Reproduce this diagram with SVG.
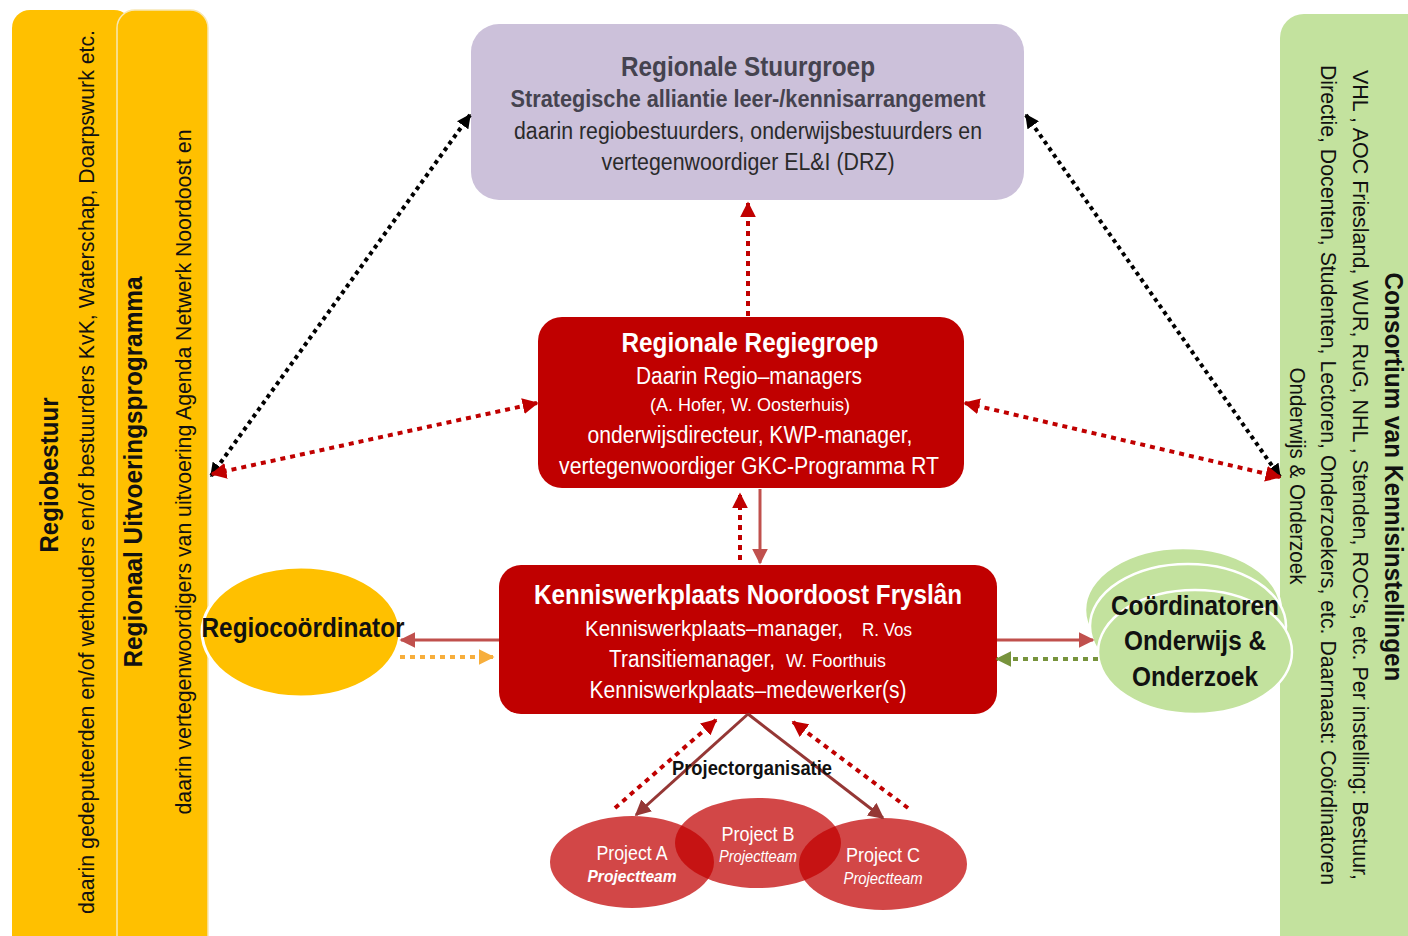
<svg xmlns="http://www.w3.org/2000/svg" width="1408" height="936" viewBox="0 0 1408 936">
<style>
text{font-family:"Liberation Sans Narrow","Liberation Sans",Arial,sans-serif;}
.b{font-weight:bold;}
.w{fill:#ffffff;}
.k{fill:#111111;}
.dk{fill:#2a2a2a;}
.gr{fill:#45434f;}
.yel{fill:#FFC000;}
.grn{fill:#C3E29E;}
.red{fill:#C00000;}
.proj{fill:#C00000;fill-opacity:0.72;}
</style>
<defs>
<marker id="aK" viewBox="0 0 10 10" refX="9" refY="5" markerWidth="14" markerHeight="14" markerUnits="userSpaceOnUse" orient="auto-start-reverse"><path d="M0,0 L10,5 L0,10 z" fill="#000"/></marker>
<marker id="aR" viewBox="0 0 10 10" refX="9" refY="5" markerWidth="16" markerHeight="16" markerUnits="userSpaceOnUse" orient="auto-start-reverse"><path d="M0,0 L10,5 L0,10 z" fill="#C00000"/></marker>
<marker id="aM" viewBox="0 0 10 10" refX="9" refY="5" markerWidth="16" markerHeight="16" markerUnits="userSpaceOnUse" orient="auto-start-reverse"><path d="M0,0 L10,5 L0,10 z" fill="#C0504D"/></marker>
<marker id="aB" viewBox="0 0 10 10" refX="9" refY="5" markerWidth="16" markerHeight="16" markerUnits="userSpaceOnUse" orient="auto-start-reverse"><path d="M0,0 L10,5 L0,10 z" fill="#953735"/></marker>
<marker id="aO" viewBox="0 0 10 10" refX="9" refY="5" markerWidth="16" markerHeight="16" markerUnits="userSpaceOnUse" orient="auto-start-reverse"><path d="M0,0 L10,5 L0,10 z" fill="#F7AE3C"/></marker>
<marker id="aG" viewBox="0 0 10 10" refX="9" refY="5" markerWidth="16" markerHeight="16" markerUnits="userSpaceOnUse" orient="auto-start-reverse"><path d="M0,0 L10,5 L0,10 z" fill="#77933C"/></marker>
</defs>
<rect width="1408" height="936" fill="#ffffff"/>

<g id="regiobestuur">
<rect x="12" y="10" width="120" height="960" rx="18" class="yel"/>
<text class="b k" font-size="25" text-anchor="middle" transform="translate(58,475) rotate(-90)" textLength="155" lengthAdjust="spacingAndGlyphs">Regiobestuur</text>
<text class="k" font-size="22" text-anchor="middle" transform="translate(94,472) rotate(-90)" textLength="884" lengthAdjust="spacingAndGlyphs">daarin gedeputeerden en/of wethouders en/of bestuurders KvK, Waterschap, Doarpswurk etc.</text>
</g>

<g id="uitvoeringsprogramma">
<rect x="117" y="10" width="91" height="960" rx="18" class="yel" stroke="#f7e7b5" stroke-width="1.5"/>
<text class="b k" font-size="25" text-anchor="middle" transform="translate(142,472) rotate(-90)" textLength="391" lengthAdjust="spacingAndGlyphs">Regionaal Uitvoeringsprogramma</text>
<text class="k" font-size="22" text-anchor="middle" transform="translate(191,472) rotate(-90)" textLength="685" lengthAdjust="spacingAndGlyphs">daarin vertegenwoordigers van uitvoering Agenda Netwerk Noordoost en</text>
</g>

<g id="consortium">
<rect x="1280" y="14" width="160" height="960" rx="24" class="grn"/>
<text class="b k" font-size="25" text-anchor="middle" transform="translate(1385,477) rotate(90)" textLength="409" lengthAdjust="spacingAndGlyphs">Consortium van Kennisinstellingen</text>
<text class="k" font-size="22" text-anchor="middle" transform="translate(1353,475) rotate(90)" textLength="810" lengthAdjust="spacingAndGlyphs">VHL , AOC Friesland, WUR, RuG, NHL , Stenden, ROC's, etc. Per instelling: Bestuur,</text>
<text class="k" font-size="22" text-anchor="middle" transform="translate(1321,475) rotate(90)" textLength="820" lengthAdjust="spacingAndGlyphs">Directie, Docenten, Studenten, Lectoren, Onderzoekers, etc. Daarnaast: Coördinatoren</text>
<text class="k" font-size="22" text-anchor="middle" transform="translate(1290,476) rotate(90)" textLength="217" lengthAdjust="spacingAndGlyphs">Onderwijs &amp; Onderzoek</text>
</g>

<g id="stuurgroep">
<rect x="471" y="24" width="553" height="176" rx="28" fill="#CCC1DA"/>
<text class="b gr" font-size="28" x="748" y="76" text-anchor="middle" textLength="254" lengthAdjust="spacingAndGlyphs">Regionale Stuurgroep</text>
<text class="b gr" font-size="23" x="748" y="107" text-anchor="middle" textLength="475" lengthAdjust="spacingAndGlyphs">Strategische alliantie  leer-/kennisarrangement</text>
<text class="dk" font-size="23" x="748" y="139" text-anchor="middle" textLength="468" lengthAdjust="spacingAndGlyphs">daarin regiobestuurders, onderwijsbestuurders en</text>
<text class="dk" font-size="23" x="748" y="170" text-anchor="middle" textLength="293" lengthAdjust="spacingAndGlyphs">vertegenwoordiger EL&amp;I (DRZ)</text>
</g>

<g id="regiegroep">
<rect x="538" y="317" width="426" height="171" rx="24" class="red"/>
<text class="b w" font-size="27" x="750" y="352" text-anchor="middle" textLength="257" lengthAdjust="spacingAndGlyphs">Regionale Regiegroep</text>
<text class="w" font-size="23" x="749" y="384" text-anchor="middle" textLength="226" lengthAdjust="spacingAndGlyphs">Daarin Regio–managers</text>
<text class="w" font-size="19" x="750" y="411" text-anchor="middle" textLength="200" lengthAdjust="spacingAndGlyphs">(A. Hofer, W. Oosterhuis)</text>
<text class="w" font-size="23" x="750" y="443" text-anchor="middle" textLength="325" lengthAdjust="spacingAndGlyphs">onderwijsdirecteur, KWP-manager,</text>
<text class="w" font-size="23" x="749" y="474" text-anchor="middle" textLength="380" lengthAdjust="spacingAndGlyphs">vertegenwoordiger GKC-Programma RT</text>
</g>

<g id="kenniswerkplaats">
<rect x="499" y="565" width="498" height="149" rx="22" class="red"/>
<text class="b w" font-size="27" x="748" y="604" text-anchor="middle" textLength="428" lengthAdjust="spacingAndGlyphs">Kenniswerkplaats Noordoost Fryslân</text>
<text class="w" font-size="22" x="585" y="636" textLength="258" lengthAdjust="spacingAndGlyphs">Kenniswerkplaats–manager,</text>
<text class="w" font-size="18" x="862" y="636" textLength="50" lengthAdjust="spacingAndGlyphs">R. Vos</text>
<text class="w" font-size="23" x="609" y="667" textLength="166" lengthAdjust="spacingAndGlyphs">Transitiemanager,</text>
<text class="w" font-size="19" x="786" y="667" textLength="100" lengthAdjust="spacingAndGlyphs">W. Foorthuis</text>
<text class="w" font-size="23" x="748" y="698" text-anchor="middle" textLength="317" lengthAdjust="spacingAndGlyphs">Kenniswerkplaats–medewerker(s)</text>
</g>

<g id="regiocoordinator">
<ellipse cx="301" cy="632" rx="99" ry="65" class="yel" stroke="#ffffff" stroke-width="3"/>
<text class="b k" font-size="27" x="303" y="637" text-anchor="middle" textLength="203" lengthAdjust="spacingAndGlyphs">Regiocoördinator</text>
</g>

<g id="coordinatoren">
<ellipse cx="1183" cy="610" rx="98" ry="62" class="grn" stroke="#ffffff" stroke-width="2.5"/>
<ellipse cx="1188" cy="626" rx="98" ry="62" class="grn" stroke="#ffffff" stroke-width="2.5"/>
<ellipse cx="1195" cy="652" rx="97" ry="62" class="grn" stroke="#ffffff" stroke-width="2.5"/>
<text class="b k" font-size="27" x="1195" y="615" text-anchor="middle" textLength="168" lengthAdjust="spacingAndGlyphs">Coördinatoren</text>
<text class="b k" font-size="27" x="1195" y="650" text-anchor="middle" textLength="142" lengthAdjust="spacingAndGlyphs">Onderwijs &amp;</text>
<text class="b k" font-size="27" x="1195" y="686" text-anchor="middle" textLength="126" lengthAdjust="spacingAndGlyphs">Onderzoek</text>
</g>

<g id="projectA">
<ellipse cx="632" cy="862" rx="82" ry="46" class="proj"/>
<text class="w" font-size="21" x="632" y="860" text-anchor="middle" textLength="71" lengthAdjust="spacingAndGlyphs">Project A</text>
<text class="w b" font-size="17" font-style="italic" x="632" y="882" text-anchor="middle" textLength="89" lengthAdjust="spacingAndGlyphs">Projectteam</text>
</g>
<g id="projectB">
<ellipse cx="758" cy="843" rx="83" ry="45" class="proj"/>
<text class="w" font-size="21" x="758" y="841" text-anchor="middle" textLength="73" lengthAdjust="spacingAndGlyphs">Project B</text>
<text class="w" font-size="16" font-style="italic" x="758" y="862" text-anchor="middle" textLength="78" lengthAdjust="spacingAndGlyphs">Projectteam</text>
</g>
<g id="projectC">
<ellipse cx="883" cy="864" rx="84" ry="46" class="proj"/>
<text class="w" font-size="21" x="883" y="862" text-anchor="middle" textLength="74" lengthAdjust="spacingAndGlyphs">Project C</text>
<text class="w" font-size="16" font-style="italic" x="883" y="884" text-anchor="middle" textLength="79" lengthAdjust="spacingAndGlyphs">Projectteam</text>
</g>

<g id="connectors" fill="none">
<line x1="470" y1="115" x2="211" y2="476" stroke="#000" stroke-width="4" stroke-dasharray="4 4" marker-start="url(#aK)" marker-end="url(#aK)"/>
<line x1="1026" y1="115" x2="1280" y2="477" stroke="#000" stroke-width="4" stroke-dasharray="4 4" marker-start="url(#aK)" marker-end="url(#aK)"/>
<line x1="212" y1="474" x2="537" y2="403" stroke="#C00000" stroke-width="4" stroke-dasharray="5 5" marker-start="url(#aR)" marker-end="url(#aR)"/>
<line x1="965" y1="403" x2="1280" y2="477" stroke="#C00000" stroke-width="4" stroke-dasharray="5 5" marker-start="url(#aR)" marker-end="url(#aR)"/>
<line x1="748" y1="316" x2="748" y2="203" stroke="#C00000" stroke-width="4" stroke-dasharray="5 5" marker-end="url(#aR)"/>
<line x1="740" y1="560" x2="740" y2="494" stroke="#C00000" stroke-width="4" stroke-dasharray="5 5" marker-end="url(#aR)"/>
<line x1="760" y1="489" x2="760" y2="563" stroke="#C0504D" stroke-width="3" marker-end="url(#aM)"/>
<line x1="499" y1="640" x2="401" y2="640" stroke="#C0504D" stroke-width="3" marker-end="url(#aM)"/>
<line x1="400" y1="657" x2="493" y2="657" stroke="#F7AE3C" stroke-width="4" stroke-dasharray="5 5" marker-end="url(#aO)"/>
<line x1="997" y1="640" x2="1093" y2="640" stroke="#C0504D" stroke-width="3" marker-end="url(#aM)"/>
<line x1="1098" y1="659" x2="997" y2="659" stroke="#77933C" stroke-width="4" stroke-dasharray="5 5" marker-end="url(#aG)"/>
<line x1="748" y1="714" x2="636" y2="815" stroke="#953735" stroke-width="3" marker-end="url(#aB)"/>
<line x1="748" y1="714" x2="883" y2="818" stroke="#953735" stroke-width="3" marker-end="url(#aB)"/>
<line x1="615" y1="808" x2="716" y2="720" stroke="#C00000" stroke-width="4" stroke-dasharray="5 5" marker-end="url(#aR)"/>
<line x1="908" y1="808" x2="793" y2="722" stroke="#C00000" stroke-width="4" stroke-dasharray="5 5" marker-end="url(#aR)"/>
</g>

<g id="projectorganisatie-label">
<text class="b k" font-size="21" x="752" y="775" text-anchor="middle" textLength="160" lengthAdjust="spacingAndGlyphs">Projectorganisatie</text>
</g>
</svg>
